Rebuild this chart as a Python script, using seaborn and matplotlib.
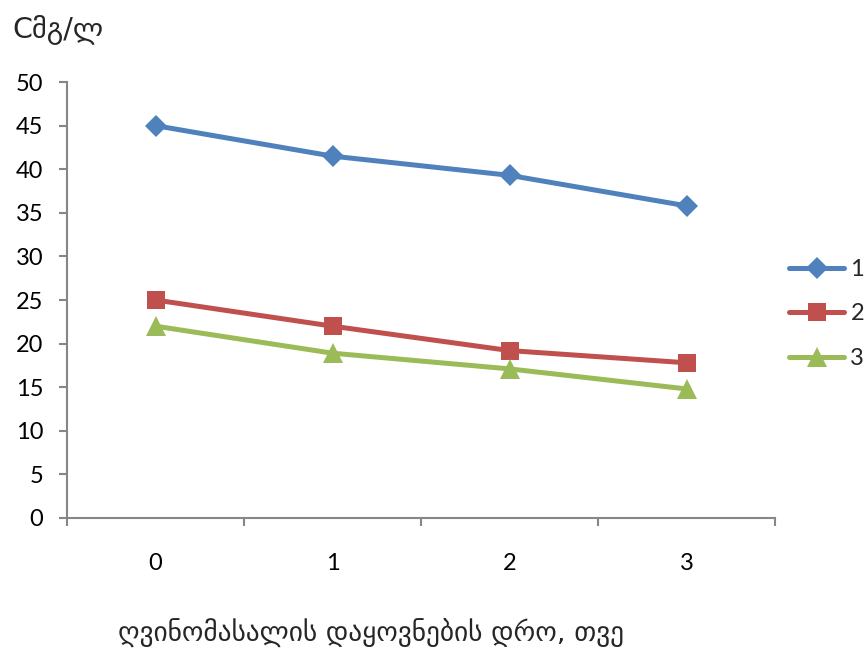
import matplotlib
matplotlib.use("Agg")
import matplotlib.pyplot as plt
import seaborn as sns
import pandas as pd
from matplotlib.ticker import FixedLocator

months = [0, 1, 2, 3]
series_1 = [45.0, 41.5, 39.3, 35.8]
series_2 = [25.0, 22.0, 19.2, 17.8]
series_3 = [22.0, 18.9, 17.1, 14.8]
series_names = ["1", "2", "3"]
y_ticks = list(range(0, 55, 5))

sns.set_theme(style="white")
plt.rcParams["font.family"] = ["Lato", "DejaVu Sans"]

rows = []
for name, vals in zip(series_names, [series_1, series_2, series_3]):
    for m, v in zip(months, vals):
        rows.append({"month": m, "value": v, "series": name})
df = pd.DataFrame(rows)

palette = {"1": "#4F81BD", "2": "#C0504D", "3": "#9BBB59"}
markers = {"1": "D", "2": "s", "3": "^"}

fig = plt.figure(figsize=(8.68, 6.5), dpi=100)
ax = fig.add_axes([0.0772, 0.2031, 0.8157, 0.6707])

sns.lineplot(data=df, x="month", y="value", hue="series", style="series",
             palette=palette, markers=markers, dashes=False, linewidth=3.6,
             markersize=12.5, markeredgewidth=0, ax=ax)
for line in ax.lines:
    if line.get_marker() == "D":
        line.set_markersize(11.5)
    elif line.get_marker() == "^":
        line.set_markersize(14)

ax.set_xlim(-0.5, 3.5)
ax.set_ylim(0, 50)
ax.set_yticks(y_ticks)
ax.set_xticks(months)
ax.set_xticklabels([str(m) for m in months])
ax.xaxis.set_minor_locator(FixedLocator([-0.5, 0.5, 1.5, 2.5, 3.5]))

axis_color = "#868686"
for side in ["top", "right"]:
    ax.spines[side].set_visible(False)
for side in ["left", "bottom"]:
    ax.spines[side].set_color(axis_color)
    ax.spines[side].set_linewidth(1.5)

ax.tick_params(axis="y", which="major", length=6, width=1.5, color=axis_color,
               labelsize=17, labelcolor="black", pad=11, left=True)
ax.tick_params(axis="x", which="major", length=0, labelsize=17,
               labelcolor="black", pad=25)
ax.tick_params(axis="x", which="minor", length=6, width=1.5,
               color=axis_color, bottom=True, direction="out")
ax.grid(False)
ax.set_xlabel("")
ax.set_ylabel("")

fig.text(0.014, 0.955, "Cმგ/ლ", fontsize=20.5, family=["DejaVu Sans"],
         ha="left", va="center")
fig.text(0.136, 0.026, "ღვინომასალის დაყოვნების დრო, თვე", fontsize=19.7,
         family=["DejaVu Sans"], ha="left", va="center")

handles, labels = ax.get_legend_handles_labels()
for h in handles:
    h.set_linewidth(3.6)
ax.legend(handles, labels, loc="center left", bbox_to_anchor=(0.909, 0.517),
          bbox_transform=fig.transFigure, frameon=False, fontsize=17,
          handlelength=2.35, handletextpad=0.25, labelspacing=1.0,
          borderpad=0, borderaxespad=0)

fig.savefig("out.png", dpi=100)
